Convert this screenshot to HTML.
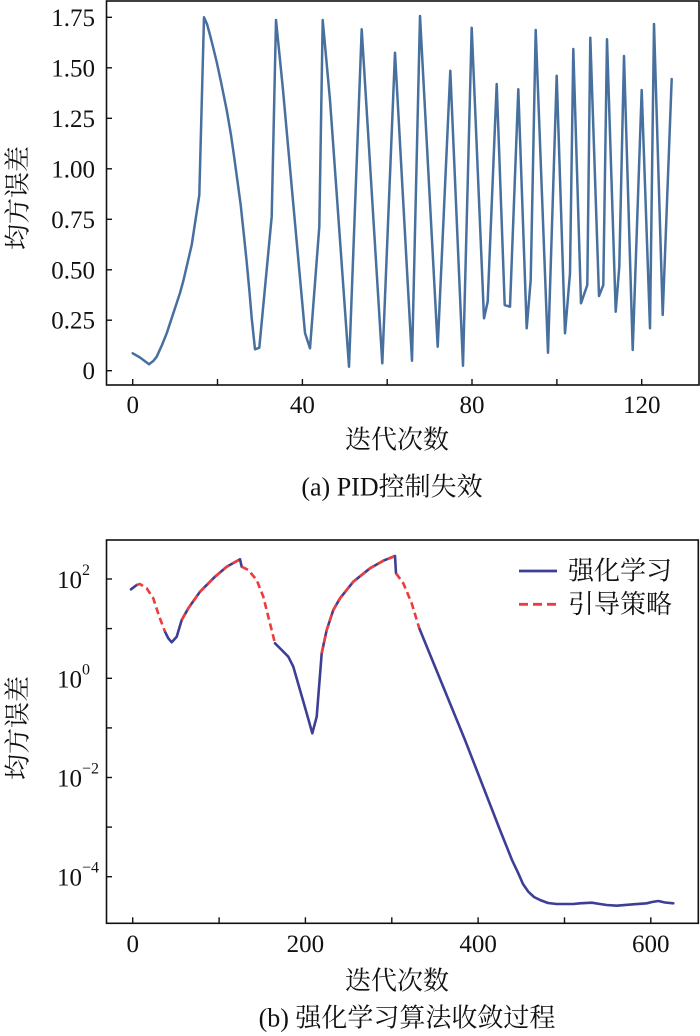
<!DOCTYPE html>
<html>
<head>
<meta charset="utf-8">
<style>
html,body{margin:0;padding:0;background:#fff;}
svg{display:block;}
.num{font-family:"Liberation Serif","Noto Serif CJK SC",serif;font-size:25px;fill:#111;}
.cjk{font-family:"Liberation Serif","Noto Serif CJK SC",serif;font-size:26px;fill:#111;}
.sup{font-family:"Liberation Serif",serif;font-size:16px;fill:#111;}
</style>
</head>
<body>
<svg width="700" height="1036" viewBox="0 0 700 1036" xmlns="http://www.w3.org/2000/svg">
<rect x="0" y="0" width="700" height="1036" fill="#fff"/>

<!-- ================= TOP CHART ================= -->
<polyline fill="none" stroke="#48709e" stroke-width="2.5" stroke-linejoin="round" stroke-linecap="round"
points="132.7,353.3 140,357.5 149,364.3 153.3,361 156.7,356.7 162,345 166.7,333.3 173.3,313.3 180,293 183.3,281 191.7,245 199.3,195 204,17.3 207,24 210,35 213.3,48 216.7,62 221,82 226.7,110 231,135 234.3,158 238,185 240.7,205 244,236 246.7,262 249.5,292 251.7,318 255,349.3 259.3,347.7 271.7,216.7 276,20 283,90 292,190 305,333 310,348.3 319.3,226.7 322.7,20 330,100 340,240 349,366.7 361.7,29.3 382.3,363.3 395,52.7 412,360.7 420,16 437.7,346.7 450.3,70.7 463,365.7 471.7,27.7 484,318.3 487.7,301.7 496.7,84 504.7,305 510,306.7 518.3,89.3 526.7,328.3 530.7,280 535.7,30 548,352.7 556.7,75.7 565,333.3 570,273.3 573.3,49 581,303.3 587.3,285 590.3,37.7 599,296 603.3,285 607,39.3 615.7,311.7 619.3,266.7 624,56 632.7,350 641.7,90 650,328.3 654,24 662.7,315 671.7,79"/>

<rect x="106.5" y="1" width="592.5" height="384" fill="none" stroke="#111" stroke-width="1.6"/>
<g stroke="#111" stroke-width="1.4">
<line x1="106" y1="370.7" x2="112" y2="370.7"/>
<line x1="106" y1="320.2" x2="112" y2="320.2"/>
<line x1="106" y1="269.8" x2="112" y2="269.8"/>
<line x1="106" y1="219.3" x2="112" y2="219.3"/>
<line x1="106" y1="168.8" x2="112" y2="168.8"/>
<line x1="106" y1="118.3" x2="112" y2="118.3"/>
<line x1="106" y1="67.8" x2="112" y2="67.8"/>
<line x1="106" y1="17.3" x2="112" y2="17.3"/>
<line x1="132.7" y1="385" x2="132.7" y2="379"/>
<line x1="217.5" y1="385" x2="217.5" y2="379"/>
<line x1="302.4" y1="385" x2="302.4" y2="379"/>
<line x1="387.2" y1="385" x2="387.2" y2="379"/>
<line x1="472.0" y1="385" x2="472.0" y2="379"/>
<line x1="556.9" y1="385" x2="556.9" y2="379"/>
<line x1="641.7" y1="385" x2="641.7" y2="379"/>
</g>
<g class="num" text-anchor="end">
<text x="95" y="379">0</text>
<text x="95" y="328.7">0.25</text>
<text x="95" y="278.3">0.50</text>
<text x="95" y="227.8">0.75</text>
<text x="95" y="177.3">1.00</text>
<text x="95" y="126.8">1.25</text>
<text x="95" y="76.3">1.50</text>
<text x="95" y="25.8">1.75</text>
</g>
<g class="num" text-anchor="middle">
<text x="132.7" y="413">0</text>
<text x="302.4" y="413">40</text>
<text x="472.0" y="413">80</text>
<text x="641.7" y="413">120</text>
</g>
<text class="cjk" x="397" y="440" text-anchor="middle" dominant-baseline="central">迭代次数</text>
<text class="cjk" x="392" y="487" text-anchor="middle" dominant-baseline="central">(a) PID控制失效</text>
<text class="cjk" transform="translate(18,198) rotate(-90)" text-anchor="middle" dominant-baseline="central">均方误差</text>

<!-- ================= BOTTOM CHART ================= -->
<g fill="none" stroke="#3c3f95" stroke-width="2.6" stroke-linejoin="round" stroke-linecap="round">
<polyline points="131,589.3 136.7,585"/>
<polyline points="165,631.7 168.3,638.3 171.7,642.3 176.7,636.7 181.7,620 188.3,608.3 200,591.7 215,576.7 226.7,566.7 240,559.3 241.7,566.7"/>
<polyline points="275,643.3 281.7,650 288.3,656.7 293.3,666.7 300,690 306.7,713.3 312.3,733.3 316.7,716.7 321.7,653.3 326.7,630 333.3,610 340,598.3 353.3,581.7 370,568.3 383.3,560.7 395,556 396,573.3"/>
<polyline points="419.3,628.3 465,740 500,830 512,860 518.3,873.3 523,884 528.3,891.7 534,897 540,900 548,903 556.7,904 573.3,904 580,903.3 591.7,902.7 600,904 606.7,905 616.7,905.7 633.3,904.3 646.7,903.3 652,902 658.3,901 665,902.5 673.3,903.3"/>
</g>
<g fill="none" stroke="#ee3b3b" stroke-width="2.6" stroke-dasharray="7 4">
<polyline points="136.7,585 140,584 146.7,588.3 153.3,598.3 159.3,616.7 165,631.7"/>
<polyline points="181.7,620 188.3,608.3 200,591.7 215,576.7 226.7,566.7 240,559.3"/>
<polyline points="241.7,566.7 248.3,570 256.7,580 263.3,596.7 268.3,616.7 275,643.3"/>
<polyline points="321.7,653.3 326.7,630 333.3,610 340,598.3 353.3,581.7 370,568.3 383.3,560.7 395,556"/>
<polyline points="396,573.3 403.3,583.3 411.7,603.3 419.3,628.3"/>
</g>

<rect x="106.5" y="540" width="591.8" height="383.3" fill="none" stroke="#111" stroke-width="1.6"/>
<g stroke="#111" stroke-width="1.4">
<line x1="106" y1="579" x2="112" y2="579"/>
<line x1="106" y1="628.6" x2="112" y2="628.6"/>
<line x1="106" y1="678.3" x2="112" y2="678.3"/>
<line x1="106" y1="727.9" x2="112" y2="727.9"/>
<line x1="106" y1="777.5" x2="112" y2="777.5"/>
<line x1="106" y1="827.1" x2="112" y2="827.1"/>
<line x1="106" y1="876.7" x2="112" y2="876.7"/>
<line x1="132.7" y1="923.3" x2="132.7" y2="917.3"/>
<line x1="219.1" y1="923.3" x2="219.1" y2="917.3"/>
<line x1="305.4" y1="923.3" x2="305.4" y2="917.3"/>
<line x1="391.8" y1="923.3" x2="391.8" y2="917.3"/>
<line x1="478.1" y1="923.3" x2="478.1" y2="917.3"/>
<line x1="564.5" y1="923.3" x2="564.5" y2="917.3"/>
<line x1="650.8" y1="923.3" x2="650.8" y2="917.3"/>
</g>
<g class="num">
<text x="57" y="588">10</text>
<text x="57" y="687.3">10</text>
<text x="57" y="786.5">10</text>
<text x="57" y="885.7">10</text>
</g>
<g class="sup">
<text x="82" y="575">2</text>
<text x="82" y="674.3">0</text>
<text x="82" y="773.5">−2</text>
<text x="82" y="872.7">−4</text>
</g>
<g class="num" text-anchor="middle">
<text x="132.7" y="952">0</text>
<text x="305.4" y="952">200</text>
<text x="478.1" y="952">400</text>
<text x="650.8" y="952">600</text>
</g>
<text class="cjk" x="397" y="981" text-anchor="middle" dominant-baseline="central">迭代次数</text>
<text class="cjk" x="407" y="1018" text-anchor="middle" dominant-baseline="central">(b) 强化学习算法收敛过程</text>
<text class="cjk" transform="translate(18,728) rotate(-90)" text-anchor="middle" dominant-baseline="central">均方误差</text>

<line x1="519" y1="571" x2="557" y2="571" stroke="#3c3f95" stroke-width="2.8"/>
<line x1="519" y1="604.3" x2="557" y2="604.3" stroke="#ee3b3b" stroke-width="2.8" stroke-dasharray="9 5"/>
<text class="cjk" x="568" y="571" dominant-baseline="central">强化学习</text>
<text class="cjk" x="568" y="604.3" dominant-baseline="central">引导策略</text>
</svg>
</body>
</html>
